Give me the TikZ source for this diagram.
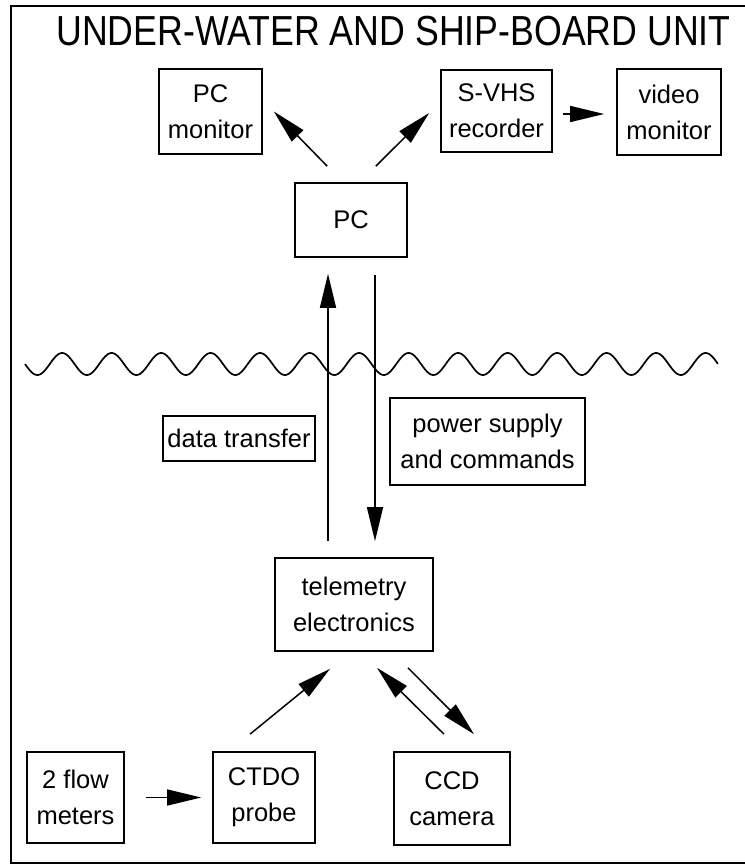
\documentclass[tikz,border=0pt]{standalone}
\usepackage{fontspec}
\setmainfont{Liberation Sans}
\newfontfamily\titlefont[FakeStretch=0.85]{Liberation Sans}
\usetikzlibrary{arrows.meta,calc}

\begin{document}
\begin{tikzpicture}[x=1pt,y=-1pt,>={Triangle[length=34pt,width=16pt]},
  unit/.style 2 args={draw,line width=1.7pt,inner sep=0pt,align=center,
    minimum width=#1pt,minimum height=#2pt,font=\fontsize{25.5}{36}\selectfont},
  link/.style={->,line width=1.5pt}]

  \useasboundingbox (0,0) rectangle (744,867);
  \draw[line width=1.5pt] (11,6) rectangle (750,863);

  \node[anchor=base,font=\titlefont\fontsize{42}{46}\selectfont] (title) at (393.5,46)
    {UNDER-WATER AND SHIP-BOARD UNIT};

  % ship-board side
  \node[unit={103}{85}] (pcmon) at (210.5,111.5) {PC\\monitor};
  \node[unit={111}{82}] (svhs) at (496.5,111) {S-VHS\\recorder};
  \node[unit={104}{86}] (video) at (669,112) {video\\monitor};
  \node[unit={112}{74}] (pc) at (351,220) {PC};

  % cable labels
  \node[unit={152}{45}] (data) at (239,438.5) {data transfer};
  \node[unit={195}{87}] (power) at (487.5,441.5) {power supply\\and commands};

  % under-water side
  \node[unit={158}{93}] (tele) at (354,604.5) {telemetry\\electronics};
  \node[unit={97}{91}] (flow) at (75.5,797.5) {2 flow\\meters};
  \node[unit={102}{91}] (ctdo) at (264,797.5) {CTDO\\probe};
  \node[unit={116}{93}] (ccd) at (452,798.5) {CCD\\camera};

  % sea surface
  \draw[line width=1.7pt] plot[domain=0:14,samples=561,smooth]
    ({25+49.5*\x},{364+11*sin(360*\x)});

  \path[every edge/.append style={link}]
    ($(pc.north west)+(33,-16)$) edge ($(pcmon.east)+(11,0)$)
    ($(pc.north east)+(-32,-16)$) edge ($(svhs.west)+(-11,2)$)
    ($(svhs.east)+(10,3)$) edge ($(video.west)+(-12,2)$)
    ($(tele.north)+(-26,-16)$) edge ($(pc.south)+(-23,16)$)
    ($(pc.south)+(24,17)$) edge ($(tele.north)+(21,-16)$)
    ($(flow.east)+(21,0)$) edge ($(ctdo.west)+(-11,0)$)
    ($(ctdo.north)+(-14,-17)$) edge ($(tele.south)+(-24,17)$)
    ($(ccd.north)+(-8,-17)$) edge ($(tele.south)+(23,16)$)
    ($(tele.south)+(54,16)$) edge ($(ccd.north)+(22,-17)$) ;

\end{tikzpicture}
\end{document}
